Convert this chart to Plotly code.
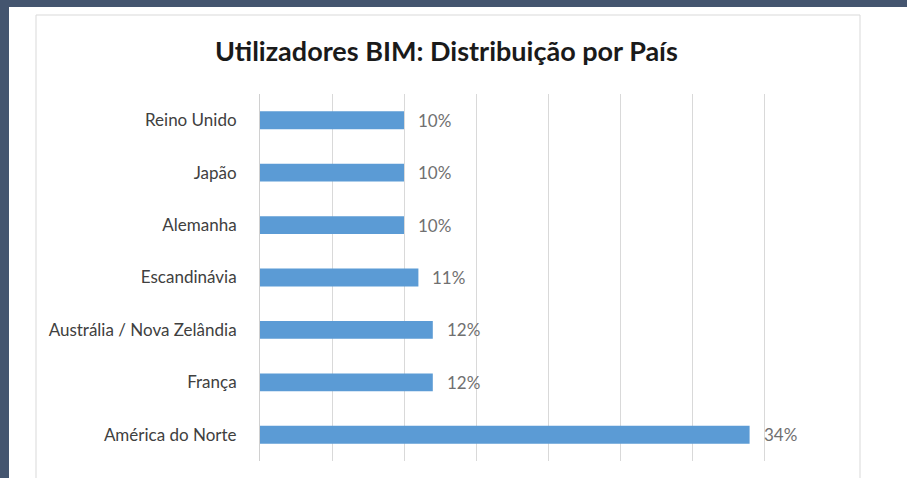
import plotly.graph_objects as go

# Share of BIM users by country/region (%)
countries = [
    "Reino Unido",
    "Japão",
    "Alemanha",
    "Escandinávia",
    "Austrália / Nova Zelândia",
    "França",
    "América do Norte",
]
shares = [10, 10, 10, 11, 12, 12, 34]
x_ticks = [0, 5, 10, 15, 20, 25, 30, 35, 40]

W, H = 907, 478
L, R, T, B = 260, 71, 94, 17
PW, PH = W - L - R, H - T - B


def px_x(px):
    return (px - L) / PW


def px_y(py):
    return (H - B - py) / PH


fig = go.Figure()
fig.add_trace(go.Bar(
    x=shares,
    y=countries,
    orientation="h",
    marker=dict(color="#5B9BD5", line=dict(width=0)),
    width=0.34,
    hoverinfo="skip",
))

# value labels to the right of each bar
for c, v in zip(countries, shares):
    fig.add_annotation(
        x=v, y=c, xref="x", yref="y",
        text=f"{v}%", showarrow=False,
        xanchor="left", yanchor="middle", xshift=12,
        font=dict(family="Lato, sans-serif", size=17, color="#707070"),
    )

fig.add_annotation(
    x=px_x(446), y=px_y(51), xref="paper", yref="paper",
    text="<b>Utilizadores BIM: Distribuição por País</b>",
    showarrow=False, xanchor="center", yanchor="middle",
    font=dict(family="Lato, sans-serif", size=27, color="#1a1a1a"),
)

shapes = [
    # chart frame
    dict(type="rect", xref="paper", yref="paper",
         x0=px_x(36), x1=px_x(860), y0=px_y(490), y1=px_y(15),
         line=dict(color="#d9d9d9", width=1), fillcolor="rgba(0,0,0,0)", layer="below"),
    # page border bands
    dict(type="rect", xref="paper", yref="paper",
         x0=px_x(0), x1=px_x(W), y0=px_y(7), y1=px_y(0),
         line=dict(width=0), fillcolor="#44556f"),
    dict(type="rect", xref="paper", yref="paper",
         x0=px_x(0), x1=px_x(9), y0=px_y(H), y1=px_y(0),
         line=dict(width=0), fillcolor="#44556f"),
]

fig.update_layout(
    width=W, height=H,
    margin=dict(l=L, r=R, t=T, b=B),
    paper_bgcolor="white",
    plot_bgcolor="white",
    showlegend=False,
    shapes=shapes,
    xaxis=dict(
        range=[0, 40], tickvals=x_ticks, showticklabels=False,
        showgrid=True, gridcolor="#d9d9d9", gridwidth=1,
        zeroline=False, showline=False, fixedrange=True,
    ),
    yaxis=dict(
        autorange="reversed", showgrid=False, zeroline=False,
        showline=True, linecolor="#d0d0d0", linewidth=1,
        ticks="", ticklabelstandoff=19,
        tickfont=dict(family="Lato, sans-serif", size=17, color="#404040"),
        fixedrange=True,
    ),
)

fig.write_html("out.html")
